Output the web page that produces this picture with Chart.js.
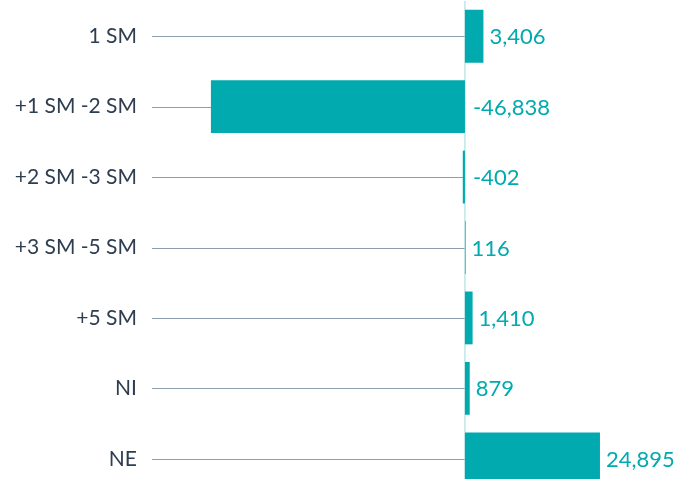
<!DOCTYPE html>
<html>
<head>
<meta charset="utf-8">
<script src="https://cdn.jsdelivr.net/npm/chart.js@4"></script>
<style>
  html, body { margin: 0; padding: 0; background: #fff; overflow: hidden; }
  canvas { display: block; }
</style>
</head>
<body>
<canvas id="chart" width="680" height="494"></canvas>
<script>
const TEAL = "#00AAAF";
const LABEL_COLOR = "#2E3D4F";
const LINE_COLOR = "#8C9DB0";

const categories = ["1 SM", "+1 SM -2 SM", "+2 SM -3 SM", "+3 SM -5 SM", "+5 SM", "NI", "NE"];
const values = [3406, -46838, -402, 116, 1410, 879, 24895];

const X_MIN = -57700;
const X_MAX = 39650;

// lines from the label to zero, plus the thin zero line
const leaderLines = {
  id: "leaderLines",
  beforeDatasetsDraw(chart) {
    const { ctx, chartArea, scales } = chart;
    const x0 = scales.x.getPixelForValue(0);
    ctx.save();
    ctx.strokeStyle = LINE_COLOR;
    ctx.lineWidth = 1.2;
    categories.forEach((c, i) => {
      const y = Math.round(scales.y.getPixelForValue(i)) + 0.5;
      ctx.beginPath();
      ctx.moveTo(chartArea.left, y);
      ctx.lineTo(x0, y);
      ctx.stroke();
    });
    ctx.strokeStyle = "#9FD9DB";
    ctx.lineWidth = 1;
    ctx.beginPath();
    ctx.moveTo(x0, chartArea.top);
    ctx.lineTo(x0, chartArea.bottom);
    ctx.stroke();
    ctx.restore();
  }
};

// value labels right of each bar (negatives: right of zero)
const valueLabels = {
  id: "valueLabels",
  afterDatasetsDraw(chart) {
    const { ctx, scales } = chart;
    const x0 = scales.x.getPixelForValue(0);
    ctx.save();
    ctx.fillStyle = TEAL;
    ctx.font = "22px Lato";
    ctx.textAlign = "left";
    ctx.textBaseline = "middle";
    values.forEach((v, i) => {
      const y = scales.y.getPixelForValue(i);
      const x = v >= 0 ? scales.x.getPixelForValue(v) + 6 : x0 + 8;
      ctx.fillText(v.toLocaleString("en-US"), x, y + 1);
    });
    ctx.restore();
  }
};

new Chart(document.getElementById("chart"), {
  type: "bar",
  data: {
    labels: categories,
    datasets: [{
      data: values,
      backgroundColor: TEAL,
      borderWidth: 0,
      barPercentage: 0.75,
      categoryPercentage: 1
    }]
  },
  options: {
    indexAxis: "y",
    responsive: false,
    animation: false,
    layout: { padding: { top: 1, right: 0, bottom: 0, left: 0 } },
    plugins: { legend: { display: false }, tooltip: { enabled: false } },
    scales: {
      x: {
        display: false,
        min: X_MIN,
        max: X_MAX
      },
      y: {
        afterFit(scale) {
          scale.width = 152;
          scale.paddingTop = 0;
          scale.paddingBottom = 0;
        },
        grid: { display: false, drawTicks: false },
        border: { display: false },
        ticks: {
          padding: 15,
          color: LABEL_COLOR,
          font: { family: "Lato", size: 21 }
        }
      }
    }
  },
  plugins: [leaderLines, valueLabels]
});
</script>
</body>
</html>
